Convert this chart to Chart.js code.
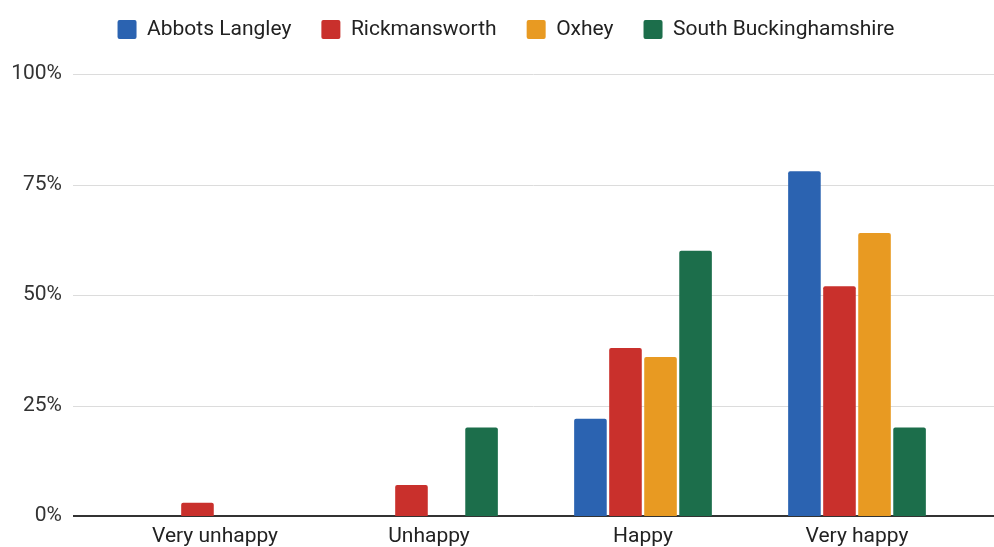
<!DOCTYPE html>
<html>
<head>
<meta charset="utf-8">
<script src="https://cdn.jsdelivr.net/npm/chart.js@4/dist/chart.umd.min.js"></script>
<style>
    html, body { margin: 0; padding: 0; background: #fff; }
    canvas { display: block; }
</style>
</head>
<body>
<canvas id="happinessChart" width="994" height="547"></canvas>
<script>
// Survey answers, % of respondents per area
const categories = ['Very unhappy', 'Unhappy', 'Happy', 'Very happy'];
const abbotsLangley = [0, 0, 22, 78];
const rickmansworth = [3, 7, 38, 52];
const oxhey = [0, 0, 36, 64];
const southBucks = [0, 20, 60, 20];
const yTicks = [0, 25, 50, 75, 100];

// Horizontal grid lines run wider than the bar area
const wideGrid = {
    id: 'wideGrid',
    beforeDatasetsDraw(chart) {
        const ctx = chart.ctx;
        const y = chart.scales.y;
        ctx.save();
        y.ticks.forEach(function(t) {
            const py = Math.round(y.getPixelForValue(t.value));
            ctx.beginPath();
            if (t.value === 0) {
                ctx.strokeStyle = '#333';
                ctx.lineWidth = 2;
                ctx.moveTo(73, py);
                ctx.lineTo(994, py);
            } else {
                ctx.strokeStyle = '#dcdcdc';
                ctx.lineWidth = 1;
                ctx.moveTo(73, py + 0.5);
                ctx.lineTo(994, py + 0.5);
            }
            ctx.stroke();
        });
        ctx.restore();
    }
};

// Extra room under the legend row
const legendGap = {
    id: 'legendGap',
    beforeUpdate(chart) {
        const legend = chart.legend;
        if (legend && !legend._gapPatched) {
            const fit = legend.fit;
            legend.fit = function() {
                fit.call(this);
                this.height += 24;
            };
            legend._gapPatched = true;
        }
    }
};

window.addEventListener('load', function() {
    initChart();
});

function initChart() {
    const ctx = document.getElementById('happinessChart');
    const bar = { categoryPercentage: 0.655, barPercentage: 0.93, borderRadius: 2 };
    new Chart(ctx, {
        type: 'bar',
        data: {
            labels: categories,
            datasets: [
                Object.assign({ label: 'Abbots Langley', data: abbotsLangley, backgroundColor: '#2b63b1' }, bar),
                Object.assign({ label: 'Rickmansworth', data: rickmansworth, backgroundColor: '#c9302c' }, bar),
                Object.assign({ label: 'Oxhey', data: oxhey, backgroundColor: '#e89a22' }, bar),
                Object.assign({ label: 'South Buckinghamshire', data: southBucks, backgroundColor: '#1c6e4b' }, bar)
            ]
        },
        options: {
            responsive: false,
            animation: false,
            // negative right padding nudges the centred legend to the right
            layout: { padding: { left: 0, right: -18, top: -11, bottom: 0 } },
            plugins: {
                legend: {
                    position: 'top',
                    labels: {
                        font: { family: 'Roboto', size: 21 },
                        color: '#222',
                        boxWidth: 19,
                        boxHeight: 19,
                        padding: 30,
                        useBorderRadius: true,
                        borderRadius: 2
                    }
                },
                tooltip: { enabled: false }
            },
            scales: {
                x: {
                    afterFit(scale) {
                        scale.height = 31;
                    },
                    grid: { display: false, drawTicks: false },
                    border: { display: false },
                    ticks: {
                        font: { family: 'Roboto', size: 21 },
                        color: '#222',
                        padding: 8,
                        maxRotation: 0
                    }
                },
                y: {
                    min: 0,
                    max: 100,
                    afterBuildTicks(scale) {
                        scale.ticks = yTicks.map(v => ({ value: v }));
                    },
                    afterFit(scale) {
                        // the wide tick padding should not push the plot down
                        scale.width = 108;
                        scale.paddingTop = 0;
                        scale.paddingBottom = 0;
                    },
                    grid: { display: false, drawTicks: false },
                    border: { display: false },
                    ticks: {
                        font: { family: 'Roboto', size: 21 },
                        color: '#333',
                        padding: 46,
                        callback: v => v + '%'
                    }
                },
                // empty right-hand axis keeps a margin after the last group
                yRight: {
                    position: 'right',
                    afterFit(scale) {
                        scale.width = 48;
                    },
                    grid: { display: false, drawTicks: false },
                    border: { display: false },
                    ticks: { display: false }
                }
            }
        },
        plugins: [wideGrid, legendGap]
    });
}
</script>
</body>
</html>
